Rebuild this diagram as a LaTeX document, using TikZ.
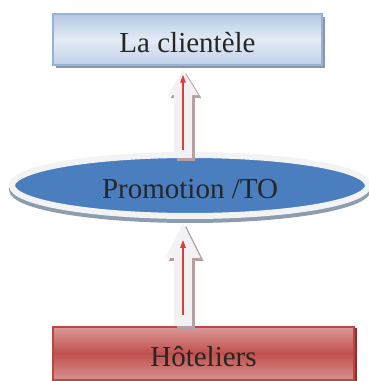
\documentclass[tikz,border=0pt]{standalone}
\usepackage{fontspec}
\setmainfont{Liberation Serif}
\usepackage{xcolor}
\usepackage{tikz}
\usetikzlibrary{arrows.meta,calc,positioning,shapes.geometric}

\definecolor{txtgray}{HTML}{262626}
\definecolor{cliborder}{HTML}{95B3D7}
\definecolor{clitop}{HTML}{B3C8E3}
\definecolor{climid}{HTML}{E4ECF5}
\definecolor{clibot}{HTML}{BFD1E8}
\definecolor{clishadow}{HTML}{8B96A6}
\definecolor{ellblue}{HTML}{4A7EBE}
\definecolor{ellrim}{HTML}{F2F3F5}
\definecolor{ellshadow}{HTML}{8E9CB0}
\definecolor{arrfill}{HTML}{F2F2F4}
\definecolor{arrshadow}{HTML}{B5A0A4}
\definecolor{arrred}{HTML}{D9403C}
\definecolor{hotborder}{HTML}{B94845}
\definecolor{hottop}{HTML}{DA9997}
\definecolor{hotmid}{HTML}{C0504D}
\definecolor{hotbot}{HTML}{D69290}
\definecolor{hotshadow}{HTML}{8C2F2D}

\begin{document}
\begin{tikzpicture}[x=1pt,y=1pt,
    bigtext/.style={font=\fontsize{29}{34}\selectfont, text=txtgray,
      text height=27pt, text depth=0pt, inner sep=0pt},
    clibox/.style={bigtext, draw=cliborder, line width=1.5pt,
      top color=clitop, bottom color=clibot, middle color=climid,
      minimum width=269pt, minimum height=51pt,
      preaction={fill=clishadow, transform canvas={shift={(3pt,-3pt)}}}},
    promoell/.style={bigtext, ellipse, draw=ellrim, line width=6pt, fill=ellblue,
      minimum width=356pt, minimum height=61pt,
      preaction={draw=ellshadow, fill=ellshadow, line width=6pt,
        transform canvas={yshift=-4pt}}},
    hotbox/.style={bigtext, draw=hotborder, line width=1.5pt,
      top color=hottop, bottom color=hotbot, middle color=hotmid,
      minimum width=301pt, minimum height=53pt,
      preaction={fill=hotshadow, transform canvas={shift={(3pt,-1pt)}}}},
    blockarrow/.style={draw=arrfill, line width=18pt},
    blockshadow/.style={draw=arrshadow, line width=18pt,
      transform canvas={shift={(3pt,-3pt)}}},
    redarrow/.style={draw=arrred, line width=1.4pt,
      -{Triangle[width=5.5pt,length=8pt]}}]
  \useasboundingbox (0,0) rectangle (369,381);

  \node[clibox] (client) at (187.5,341.5) {La clientèle};
  \node[promoell] (promo) at (190,195.5) {Promotion /TO};
  \node[hotbox] (hotel) at (203.5,27.5) {Hôteliers};
  \coordinate (ax) at (183,0);

  % promotion -> clientele
  \draw[blockshadow, shorten <=-6pt, shorten >=4.5pt,
    -{Triangle[width=31pt,length=25pt,line width=0pt]}]
    (promo.north -| ax) -- (client.south -| ax);
  \draw[blockarrow, shorten <=-6pt, shorten >=4.5pt,
    -{Triangle[width=31pt,length=25pt,line width=0pt]}]
    (promo.north -| ax) -- (client.south -| ax);
  \draw[redarrow, shorten <=2pt, shorten >=9pt]
    (promo.north -| ax) -- (client.south -| ax);

  % hoteliers -> promotion
  \draw[blockshadow, shorten >=4pt,
    -{Triangle[width=35pt,length=35pt,line width=0pt]}]
    (hotel.north -| ax) -- (promo.south -| ax);
  \draw[blockarrow, shorten >=4pt,
    -{Triangle[width=35pt,length=35pt,line width=0pt]}]
    (hotel.north -| ax) -- (promo.south -| ax);
  \draw[redarrow, shorten <=11pt, shorten >=21pt]
    (hotel.north -| ax) -- (promo.south -| ax);
\end{tikzpicture}
\end{document}
